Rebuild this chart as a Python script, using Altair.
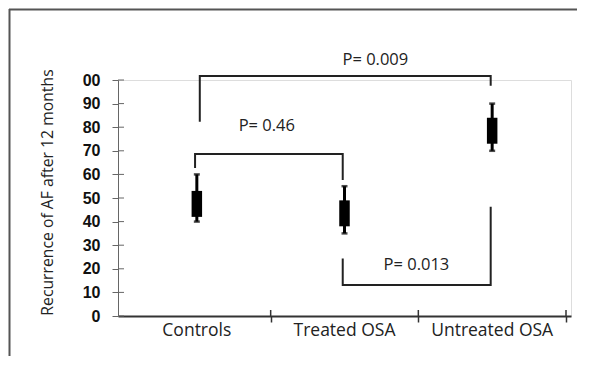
import altair as alt
import pandas as pd

# ---- data ----
groups = ["Controls", "Treated OSA", "Untreated OSA"]
box_x = [0.5, 1.5, 2.5]
whisker_low = [40, 35, 70]
box_low = [42, 38, 73]
box_high = [53, 49, 84]
whisker_high = [60, 55, 90]
label_x = [0.5, 1.5, 2.5]

p_labels = ["P= 0.009", "P= 0.46", "P= 0.013"]
bracket_x1 = [0.52, 0.488, 1.488]
bracket_x2 = [2.49, 1.488, 2.49]
bracket_bar = [101.7, 68.6, 13.1]
bracket_end1 = [82.3, 62.7, 24.4]
bracket_end2 = [97.6, 57.6, 46.3]
p_x = [1.709, 0.974, 1.987]
p_y = [108.6, 80.6, 21.6]

y_ticks = list(range(0, 101, 10))
x_ticks = [1, 2, 3]

W, H = 453, 236
PAD = {"left": 110, "top": 72, "right": 12, "bottom": 47}
TEXT_FONT = "Open Sans"

boxes = pd.DataFrame({
    "group": groups, "x": box_x, "wlo": whisker_low, "blo": box_low,
    "bhi": box_high, "whi": whisker_high,
})
cats = pd.DataFrame({"group": groups, "x": label_x})
rows = []
for i, name in enumerate(p_labels):
    pts = [(bracket_x1[i], bracket_end1[i]), (bracket_x1[i], bracket_bar[i]),
           (bracket_x2[i], bracket_bar[i]), (bracket_x2[i], bracket_end2[i])]
    for k, (bx, by) in enumerate(pts):
        rows.append({"bracket": name, "order": k, "x": bx, "y": by})
brackets = pd.DataFrame(rows)
plabels = pd.DataFrame({"label": p_labels, "x": p_x, "y": p_y})
yt = pd.DataFrame({"y": y_ticks})
xt = pd.DataFrame({"x": x_ticks})
one = pd.DataFrame({"a": [0]})

xscale = alt.Scale(domain=[0, 3], nice=False, zero=False)
yscale = alt.Scale(domain=[0, 100], nice=False)

xaxis = alt.Axis(values=x_ticks, labels=False, title=None, grid=False,
                 domainColor="#333", domainWidth=2, tickColor="#333",
                 tickWidth=1.5, tickSize=6)
yaxis = alt.Axis(values=y_ticks, tickCount=11, grid=False,
                 title="Recurrence of AF after 12 months",
                 labelExpr="datum.value == 100 ? '00' : datum.label",
                 labelOverlap=False, labelFlush=False,
                 labelFont="Liberation Sans", labelFontWeight="bold",
                 labelFontSize=16, labelColor="#111", labelPadding=12,
                 tickSize=6, tickColor="#666", domainColor="#666",
                 titleFont=TEXT_FONT, titleFontSize=15.75, titleFontWeight="normal",
                 titleColor="#222", titleX=-71, titleY=112, titleAngle=270,
                 titleAlign="center", titleBaseline="middle")


def X(f):
    return alt.X(f, scale=xscale, axis=xaxis)


def Y(f):
    return alt.Y(f, scale=yscale, axis=yaxis)


frame_top = alt.Chart(one).mark_rule(color="#555", strokeWidth=2).encode(
    x=alt.value(-109), x2=alt.value(W + 6), y=alt.value(-70.5))
frame_left = alt.Chart(one).mark_rule(color="#555", strokeWidth=2).encode(
    x=alt.value(-108.5), y=alt.value(-71), y2=alt.value(H + 40))

base_axes = alt.Chart(brackets).mark_line(color="#222", strokeWidth=2).encode(
    x=X("x:Q"), y=Y("y:Q"), detail="bracket:N", order="order:Q")

ytin = alt.Chart(yt).mark_rule(color="#666", strokeWidth=1).encode(
    y=Y("y:Q"), x=alt.value(0), x2=alt.value(6))
xtin = alt.Chart(xt).mark_rule(color="#333", strokeWidth=1.5).encode(
    x=X("x:Q"), y=alt.value(H - 6), y2=alt.value(H))

whisk = alt.Chart(boxes).mark_rule(color="black", strokeWidth=3).encode(
    x=X("x:Q"), y=Y("wlo:Q"), y2="whi:Q")
box = alt.Chart(boxes).mark_bar(color="black", width=10.5).encode(
    x=X("x:Q"), y=Y("blo:Q"), y2="bhi:Q")
cap_lo = alt.Chart(boxes).mark_tick(color="black", thickness=2.5, size=6, orient="horizontal").encode(
    x=X("x:Q"), y=Y("wlo:Q"))
cap_hi = alt.Chart(boxes).mark_tick(color="black", thickness=2.5, size=6, orient="horizontal").encode(
    x=X("x:Q"), y=Y("whi:Q"))

ptext = alt.Chart(plabels).mark_text(font=TEXT_FONT, fontSize=16.5, color="#222",
                                     align="center", baseline="middle").encode(
    x=X("x:Q"), y=Y("y:Q"), text="label:N")

ctext = alt.Chart(cats).mark_text(font=TEXT_FONT, fontSize=17.5, color="#222",
                                  align="center", baseline="middle").encode(
    x=X("x:Q"), y=alt.value(H + 15), text="group:N")

chart = alt.layer(frame_top, frame_left, base_axes, ytin, xtin, whisk, box, cap_lo, cap_hi,
                  ptext, ctext).properties(
    width=W, height=H,
    autosize=alt.AutoSizeParams(type="none"),
    padding=PAD,
).configure_view(stroke=None).configure(background="white")

chart.save("out.html", embed_options={"renderer": "svg", "actions": False})
